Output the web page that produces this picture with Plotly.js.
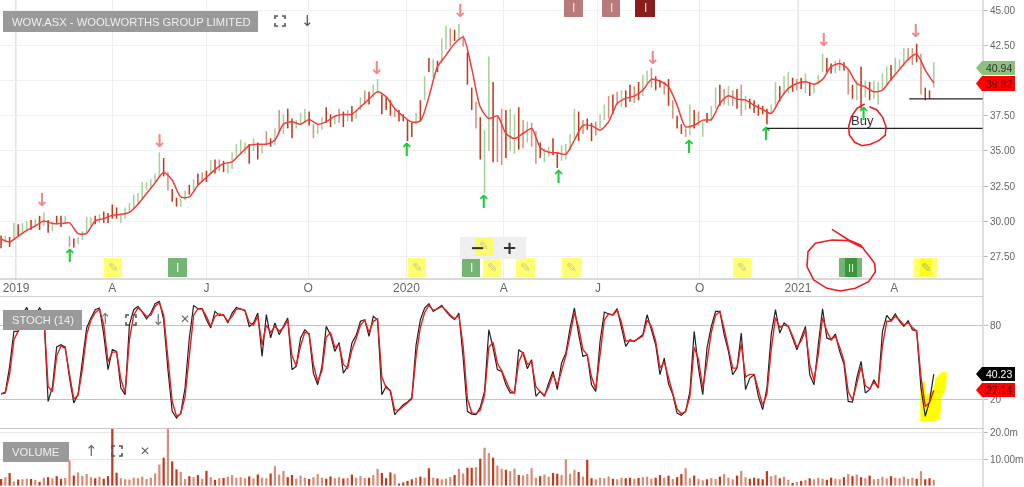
<!DOCTYPE html>
<html><head><meta charset="utf-8">
<script src="https://cdn.plot.ly/plotly-3.0.1.min.js"></script>
<style>html,body{margin:0;padding:0;background:#fff;overflow:hidden}#chart{width:1024px;height:487px;filter:blur(0.5px)}</style>
</head><body><div id="chart"></div>
<script>
// one sample every 4 calendar days from 2018-12-18
const priceHigh=[29.0,29.0,28.9,29.9,29.8,29.9,30.0,30.1,30.2,30.4,
30.65,30.1,30.0,30.4,30.4,30.4,28.95,28.8,28.9,29.3,
30.3,30.3,30.4,30.5,30.7,30.6,31.2,31.0,30.5,31.0,
31.3,31.9,32.0,32.8,32.8,33.0,33.4,34.9,34.5,33.5,
32.3,31.7,31.6,32.2,32.6,33.0,33.4,33.5,33.6,34.35,
34.4,34.4,34.3,34.2,34.9,35.5,35.8,35.6,35.5,35.9,
35.6,35.5,36.4,35.9,36.6,37.9,37.6,38.0,37.3,37.2,
37.7,38.0,37.8,36.9,36.9,37.4,38.1,37.6,37.5,38.0,
37.8,37.9,38.2,37.9,38.8,39.3,39.2,39.7,40.1,39.0,
38.8,38.6,38.0,37.9,37.6,37.2,37.0,37.7,38.6,40.3,
41.6,41.5,41.4,43.0,43.9,43.7,43.6,44.0,43.2,42.0,
39.5,38.5,37.4,36.5,41.7,39.9,37.4,38.0,37.9,38.0,
37.6,38.1,37.2,37.1,37.0,36.4,35.6,35.2,35.3,35.9,
34.9,35.4,35.5,36.2,38.0,37.8,37.2,37.3,37.0,37.1,
37.6,38.3,38.9,39.0,39.2,39.3,39.3,39.7,39.6,39.9,
40.4,40.7,40.9,40.3,40.0,39.9,40.1,38.6,37.5,36.9,
36.6,38.3,37.9,37.8,37.1,37.7,38.2,39.5,39.7,39.4,
39.6,39.3,39.4,39.7,38.9,38.7,38.6,38.3,38.2,38.0,
38.3,39.9,39.6,40.3,40.6,40.2,40.1,40.2,40.5,39.9,
39.8,40.4,41.9,41.6,41.2,41.4,41.5,41.3,40.8,39.7,
40.0,41.0,40.0,39.9,40.0,39.9,40.5,41.0,41.1,41.6,
41.5,42.3,42.3,42.3,42.6,41.9,39.5,39.3,41.3];
const priceLow=[28.1,28.5,28.2,28.8,28.9,29.1,29.3,29.4,29.6,29.4,
29.7,29.2,29.3,29.8,29.6,29.8,28.2,28.15,28.4,28.7,
29.2,29.7,29.8,29.9,29.9,29.9,30.2,30.2,29.9,30.2,
30.6,30.9,31.2,31.6,32.2,32.3,32.8,33.1,33.2,32.2,
31.4,31.05,31.05,31.5,31.9,32.2,32.6,32.8,32.8,33.3,
33.4,33.6,33.5,33.4,33.7,34.6,34.8,34.8,34.1,35.0,
34.4,34.8,35.4,35.3,35.4,36.3,36.2,36.6,35.9,36.6,
36.9,37.0,36.8,35.9,36.2,36.5,37.0,36.7,36.9,37.0,
36.7,37.1,37.1,37.3,37.9,38.3,38.3,38.8,39.1,37.6,
37.9,37.5,37.4,37.1,37.1,35.7,36.0,36.9,37.1,38.6,
40.6,40.2,40.6,41.2,42.2,42.4,42.8,43.0,42.4,39.7,
37.9,36.6,34.4,32.0,35.0,34.2,34.2,34.0,34.5,35.0,
34.8,35.1,35.2,35.6,35.3,34.1,34.5,34.2,34.6,34.7,
33.8,34.3,34.4,35.0,35.9,35.7,36.2,36.5,35.7,36.1,
36.6,37.2,37.3,37.6,38.3,38.1,38.1,38.5,38.4,38.6,
38.9,39.8,39.5,39.3,39.5,39.0,38.2,37.3,36.6,36.2,
36.0,36.1,36.6,36.8,36.0,37.0,37.1,38.0,38.2,38.3,
38.2,38.2,38.0,37.5,37.9,38.0,37.7,37.5,37.6,36.9,
37.6,38.2,38.5,39.0,39.1,39.2,39.3,39.4,39.1,38.9,
39.1,39.7,40.6,40.6,40.5,40.5,40.7,40.7,39.0,38.7,
38.6,38.0,38.8,38.6,38.7,38.3,39.4,39.7,40.0,40.5,
40.7,41.0,41.4,41.1,41.3,39.0,38.6,38.7,39.5];
// 0 rising session, 1 falling session, 2 pale falling session
const barClass=[1,0,1,0,1,0,0,1,0,1,0,1,0,1,1,0,2,1,0,0,
0,0,1,0,1,1,1,1,0,0,0,0,0,0,0,0,0,0,1,2,
1,1,0,0,1,0,1,2,1,0,1,2,1,0,0,0,0,0,1,0,
1,0,2,1,0,2,0,1,1,0,0,0,1,2,0,0,1,1,0,2,
1,0,1,0,0,2,1,0,0,1,1,1,2,1,1,1,1,0,1,0,
1,0,1,0,0,2,1,0,2,1,1,2,1,0,0,1,2,2,1,0,
0,1,2,0,2,2,1,0,0,1,1,0,0,0,0,1,2,1,1,2,
0,0,2,1,2,0,1,1,2,1,0,0,2,1,1,2,1,2,1,1,
2,0,1,2,0,1,0,0,1,2,0,2,1,2,0,1,1,1,1,1,
0,0,1,0,0,1,2,1,0,1,0,0,0,1,1,0,2,1,2,1,
0,1,0,1,0,0,0,0,1,0,0,0,2,2,1,2,1,1,0];
// smoothed price line, one sample every 8 days
const priceAverage=[28.76,28.55,28.95,29.37,29.68,30.04,29.85,29.85,29.9,29.14,
29.16,30.05,30.2,30.44,30.51,30.65,31.22,31.98,32.74,33.47,
32.93,31.74,31.74,32.57,33.12,33.68,34.1,34.23,34.82,35.39,
35.48,35.48,35.77,36.9,37.07,36.9,37.23,36.9,37.07,37.47,
37.59,37.61,38.13,38.68,39.2,38.84,38.02,37.47,37.05,37.14,
38.84,40.98,41.8,42.63,43.06,40.86,38.13,37.3,37.5,36.24,
35.88,36.24,36.6,35.25,34.91,34.87,34.77,35.77,36.81,36.79,
36.48,37.07,38.37,38.73,38.89,39.32,40.08,39.96,39.55,38.25,
36.71,36.83,37.19,37.23,38.37,38.92,38.68,38.61,38.25,37.95,
37.66,38.65,39.44,39.79,39.91,39.74,40.08,40.98,41.21,40.79,
39.79,39.55,39.2,39.32,40.08,40.79,41.5,41.87,40.74,39.82];
const stochK=[24.3,25.7,46.5,74.9,74.9,88.4,94.3,85.7,88.4,93.8,
88.4,18.1,29.7,62.2,64,62,37,16.8,24,50.5,
77.6,85.7,92.4,93.8,72.2,43.8,60,58.6,28.9,23.5,
80.3,92.4,95.1,90.5,85,89.7,97.3,99.2,84.3,43.8,
10,4.6,8.6,28.9,69.5,95.9,93.2,93.2,84.3,77.6,
91,87.8,88.4,81.6,89.7,94.3,92.7,91.6,78.9,81.6,
89.7,54.6,88.4,69.5,81.6,72.2,78.9,85.7,43.8,46.5,
69.5,76.2,72.2,41,31.6,46.5,78.9,72.2,58.6,65.9,
41,46.5,65.4,71.6,83,84.3,70.8,87,84.3,23.5,
30.3,26.2,7.3,11.4,15.4,17.6,20.8,64,84.3,93.8,
97.3,91,93.8,95.9,91,87,84.3,89.7,53.2,10,
7.8,7.3,13.2,26.2,76.2,61.4,43.8,42.4,31.6,24.9,
24.9,60,57.3,44.6,51.9,22.2,26.2,22.2,33,42.4,
27.6,49.2,57.3,77.6,93.8,72.2,54.6,55.9,31.6,26.2,
66.8,90.5,88.9,88.4,93.2,78.9,62.7,68.1,66.8,69.5,
72.2,88.4,76.2,64,39.7,53.2,32.2,23.5,8.6,6.8,
10,26.2,74.9,45.1,23.5,61.4,78.9,91,91,72.2,
58.6,39.7,45.1,73.5,27.6,37,39.7,22.2,11.4,28.9,
72.2,92.4,73.5,81.6,78.9,69.5,60,69.5,78.9,39.7,
31.6,64,93.2,69.5,68.1,72.7,58.6,48.4,18.1,17.6,
37,50.5,24.9,27.6,35.7,28.9,74.9,87.8,83.5,88.9,
83,78.9,83.5,76.2,74.9,28.9,6,18.1,40.23];
const stochD=[24,25,40,68,75,85,92,88,88,92,
89,30,26,55,63,61,40,20,23,44,
72,84,90,93,80,50,58,58,36,25,
68,88,94,91,87,88,95,98,88,55,
18,6,8,22,58,88,93,93,87,79,
87,89,88,83,87,93,93,92,82,80,
87,64,80,74,79,75,78,84,55,47,
63,74,73,48,34,43,70,74,62,64,
48,45,60,69,80,84,74,83,85,38,
29,27,11,11,14,17,20,55,78,90,
96,92,93,95,92,88,85,88,63,20,
9,8,11,23,62,66,49,43,35,27,
25,50,58,48,50,30,26,23,30,40,
31,43,55,72,90,78,60,56,38,28,
55,84,89,88,92,82,67,67,67,69,
71,84,79,67,45,50,37,26,12,8,
10,22,62,52,29,50,74,88,91,77,
62,45,45,65,38,40,40,27,15,24,
60,86,78,80,79,71,62,67,76,48,
35,56,86,75,68,71,62,51,26,19,
32,46,31,28,34,29,63,83,83,87,
84,80,82,78,75,38,14,17,27.14];
const volumeM=[2.5,3.2,4.8,1.6,2.3,2.4,2.6,2.5,2.2,1.4,
3.0,3.2,2.8,3.6,2.6,2.9,9.6,3.8,5.0,3.7,
4.4,3.2,2.8,3.4,2.6,3.6,21.5,4.9,2.8,2.4,
2.3,3.0,2.8,3.4,2.5,3.0,4.6,8.0,10.6,22.0,
9.2,6.2,5.2,2.5,3.6,3.2,4.0,2.6,5.6,3.2,
2.2,2.8,2.9,3.4,4.0,3.0,3.2,2.8,3.5,2.7,
4.2,3.0,2.8,4.6,7.4,4.2,5.6,3.2,4.0,2.6,
3.8,3.0,2.5,3.2,4.4,3.0,2.6,3.5,2.8,3.2,
2.7,2.9,4.2,3.0,3.6,2.9,3.0,4.0,6.4,4.8,
2.8,5.0,4.4,0.8,1.2,1.8,2.4,3.0,3.4,3.0,
6.6,3.0,2.7,2.4,2.7,3.2,4.0,6.4,4.6,6.8,
6.8,7.0,10.2,14.4,12.4,10.6,7.6,6.4,6.0,5.5,
6.5,4.0,3.9,4.4,6.6,3.0,3.6,4.2,3.4,4.8,
4.5,4.0,10.0,4.5,6.0,5.2,3.4,9.8,2.8,2.4,
3.0,2.8,3.5,2.6,2.4,3.0,2.8,3.0,2.6,2.9,
3.2,3.4,2.7,3.0,4.0,3.0,3.8,2.5,3.2,4.4,
6.6,2.8,3.8,2.5,2.0,2.4,2.8,2.5,3.4,4.4,
3.0,2.4,3.8,5.6,3.2,2.6,3.0,2.7,2.4,5.5,
3.6,4.0,2.8,3.4,2.2,1.0,1.4,1.8,2.2,2.8,
2.4,3.0,2.6,2.2,3.0,2.6,2.4,3.2,4.4,3.6,
4.2,3.2,2.8,3.8,2.4,2.6,3.4,2.7,3.6,3.0,
2.8,3.4,2.6,3.0,2.6,5.5,2.4,2.8,2.2];
const arrowUpDates=['2019-02-20','2020-01-01','2020-03-13','2020-05-22','2020-09-21','2020-12-02','2021-03-03'];
const arrowUpPrices=[27.46,34.99,31.29,33.07,35.2,36.12,37.54];
const arrowDownDates=['2019-01-25','2019-05-15','2019-12-04','2020-02-20','2020-08-18','2021-01-25','2021-04-21'];
const arrowDownPrices=[31.43,35.62,40.81,44.79,41.52,42.8,43.37];
const monthTickDates=['2019-01-01','2019-04-01','2019-06-28','2019-10-01','2020-01-01','2020-04-01','2020-06-28','2020-10-01','2021-01-01','2021-04-01'];
const monthTickLabels=['2019','A','J','O','2020','A','J','O','2021','A'];
const yearLines=['2019-01-01','2020-01-01','2021-01-01'];
const priceTicks=[27.5,30,32.5,35,37.5,40,42.5,45];
const priceTickLabels=['27.50','30.00','32.50','35.00','37.50','','42.50','45.00'];
const stochTicks=[20,80];
const volumeTicks=[10,20];
const volumeTickLabels=['10.00m','20.0m'];
const supportLevels=[{from:'2020-12-03',price:36.6},{from:'2021-04-15',price:38.7}];
const lastClose='40.94', lastAverage='39.82', lastK='40.23', lastD='27.14';

const DAY=864e5, T0=Date.UTC(2018,11,18);
const iso=t=>new Date(t).toISOString().slice(0,10);
const dates=priceHigh.map((_,i)=>iso(T0+4*i*DAY));
const avgDates=priceAverage.map((_,i)=>iso(T0+8*i*DAY));
const priceColours=['#a8d09c','#c23a1c','#d8917f'];
const volColours=['#d98c78','#c23a1c','#d98c78'];

const W=1024,H=487;
const px=x=>x/W, py=y=>1-y/H;
const xEnd=983;
const traces=[
 {type:'bar',x:dates,y:priceHigh.map((h,i)=>h-priceLow[i]),base:priceLow,width:1.45*DAY,
  marker:{color:barClass.map(c=>priceColours[c]),line:{width:0}},xaxis:'x',yaxis:'y',hoverinfo:'skip'},
 {type:'scatter',mode:'lines',x:avgDates,y:priceAverage,line:{color:'#f33c3c',width:1.5,shape:'spline',smoothing:0.7},xaxis:'x',yaxis:'y'},
 {type:'scatter',mode:'text',x:arrowUpDates,y:arrowUpPrices,text:arrowUpDates.map(()=>'↑'),textposition:'middle center',
  textfont:{family:'DejaVu Sans',size:18,color:'#1fcf3f',weight:700},cliponaxis:false,xaxis:'x',yaxis:'y'},
 {type:'scatter',mode:'text',x:arrowDownDates,y:arrowDownPrices,text:arrowDownDates.map(()=>'↓'),textposition:'middle center',
  textfont:{family:'DejaVu Sans',size:18,color:'#f08a8a',weight:700},cliponaxis:false,xaxis:'x',yaxis:'y'},
 {type:'scatter',mode:'lines',x:dates,y:stochK,line:{color:'#222',width:1.2},xaxis:'x2',yaxis:'y2'},
 {type:'scatter',mode:'lines',x:dates,y:stochD,line:{color:'#ee1c1c',width:1.4},xaxis:'x2',yaxis:'y2'},
 {type:'bar',x:dates,y:volumeM,width:2.1*DAY,marker:{color:barClass.map(c=>volColours[c]),line:{width:0}},xaxis:'x3',yaxis:'y3',hoverinfo:'skip'}
];

const shapes=[],ann=[];
const rect=(x0,y0,x1,y1,fill,layer)=>shapes.push({type:'rect',xref:'paper',yref:'paper',x0:px(x0),x1:px(x1),y0:py(y0),y1:py(y1),fillcolor:fill,line:{width:0},layer:layer||'above'});
const poly=(pts,o)=>shapes.push(Object.assign({type:'path',xref:'paper',yref:'paper',path:'M'+pts.map(p=>px(p[0]).toFixed(5)+' '+py(p[1]).toFixed(5)).join(' L')},o));
const hline=(x0,x1,y,c,w)=>shapes.push({type:'line',xref:'paper',yref:'paper',x0:px(x0),x1:px(x1),y0:py(y),y1:py(y),line:{color:c,width:w||1}});
const text=(x,y,t,size,color,anchor,extra)=>ann.push(Object.assign({xref:'paper',yref:'paper',x:px(x),y:py(y),text:t,showarrow:false,xanchor:anchor||'center',yanchor:'middle',font:{family:'Liberation Sans',size,color}},extra||{}));
const corners=(cx,cy,c)=>{const r=5,k=3;[[-1,-1],[1,-1],[-1,1],[1,1]].forEach(s=>poly([[cx+s[0]*(r-k),cy+s[1]*r],[cx+s[0]*r,cy+s[1]*r],[cx+s[0]*r,cy+s[1]*(r-k)]],{line:{color:c||'#555',width:1.6}}));};
const tag=(x0,x1,y0,y1,fill,t,tc)=>{poly([[x0,(y0+y1)/2],[x0+6,y0],[x1,y0],[x1,y1],[x0+6,y1],[x0,(y0+y1)/2]],{fillcolor:fill,line:{width:0}});text((x0+x1)/2+3,(y0+y1)/2,t,10.5,tc);};

// year lines and support lines
yearLines.forEach(d=>shapes.push({type:'line',xref:'x',yref:'paper',x0:d,x1:d,y0:py(279),y1:1,line:{color:'#c4c4c4',width:1},layer:'below'}));
supportLevels.forEach(s=>shapes.push({type:'line',xref:'x',yref:'y',x0:s.from,x1:'2021-06-23',y0:s.price,y1:s.price,line:{color:'#222',width:1.2}}));
// frame
hline(0,xEnd,279,'#b5b5b5',1.2);hline(0,xEnd,296.5,'#d0d0d0',1);hline(0,xEnd,428.5,'#c8c8c8',1.2);
shapes.push({type:'line',xref:'paper',yref:'paper',x0:px(xEnd),x1:px(xEnd),y0:0,y1:1,line:{color:'#bdbdbd',width:1}});
// note markers
[[104,122],[408,426],[483,501],[516,535],[562,581],[733,751]].forEach(a=>{rect(a[0],258,a[1],277,'#ffff70');text((a[0]+a[1])/2,267.5,'✎',13,'#c9c9a0','center',{font:{family:'DejaVu Sans',size:13,color:'#c9c9a0'}});});
rect(914,258,937,277,'#ffff70');rect(920,259,932,276,'#ffff10');text(926,267.5,'✎',13,'#b8b860','center',{font:{family:'DejaVu Sans',size:13,color:'#b8b860'}});
[[168,187],[462,480]].forEach(a=>{rect(a[0],258,a[1],277,'#74b474');text((a[0]+a[1])/2,267.5,'I',12,'#fff');});
rect(839,258,862,277,'#74b474');rect(845,258,857,277,'#3a963a');text(851,267.5,'II',11,'#d8efd8');
[[564,583,'#b97a7a'],[602,620,'#b97a7a'],[635,655,'#8a1c1c']].forEach(a=>{rect(a[0],0,a[1],17,a[2]);text((a[0]+a[1])/2,8,'I',12,'#f3e3e3');});
// zoom control
rect(460,237,526,259,'#efefef');rect(475,238,493,256,'rgba(255,255,60,.75)');
text(477,247,'−',20,'#333','center',{font:{family:'DejaVu Sans',size:18,color:'#333',weight:700}});
text(509,247,'+',20,'#333','center',{font:{family:'DejaVu Sans',size:18,color:'#333',weight:700}});
text(484,246,'✎',12,'#c9c9a0','center',{font:{family:'DejaVu Sans',size:12,color:'#c9c9a0'}});
// panel labels
rect(3,11,258,32,'#9a9a9a');text(10,21.5,'WOW.ASX - WOOLWORTHS GROUP LIMITED',11.2,'#efefef','left');
corners(280,21);text(307,21,'↓',15,'#555','center',{font:{family:'DejaVu Sans',size:15,color:'#555'}});
rect(3,310,82,330,'#9a9a9a');text(10,320,'STOCH (14)',11.2,'#efefef','left');
text(105,319,'↑',15,'#777','center',{font:{family:'DejaVu Sans',size:15,color:'#777'}});corners(131,320);
text(158,320,'↓',15,'#777','center',{font:{family:'DejaVu Sans',size:15,color:'#777'}});text(185,319,'✕',12,'#666','center',{font:{family:'DejaVu Sans',size:12,color:'#666'}});
rect(3,442,69,462,'#9a9a9a');text(10,451.5,'VOLUME',11.2,'#efefef','left');
text(91,451,'↑',15,'#666','center',{font:{family:'DejaVu Sans',size:15,color:'#666'}});corners(117,451);
text(145,451,'✕',12,'#666','center',{font:{family:'DejaVu Sans',size:12,color:'#666'}});
// hand annotations
text(862,120,'Buy',13,'#333');
const toPx=(X,Y,dy)=>[512+X/3,(dy||0)+Y/3];
poly([[1072,320],[1095,330],[1112,352],[1122,380],[1120,405],[1100,422],[1075,433],[1050,437],[1028,427],[1012,405],[1010,380],[1018,350],[1035,325],[1058,312]].map(p=>toPx(p[0],p[1])),{line:{color:'#ee1c24',width:1.6}});
poly([[960,688],[1010,720],[1045,735],[1065,760],[1088,790],[1090,815],[1070,845],[1030,865],[985,873],[945,865],[905,840],[885,800],[888,755],[910,730],[960,720],[1010,722],[1055,745]].map(p=>toPx(p[0],p[1])),{line:{color:'#ee1c24',width:1.6}});
poly([[1225,262],[1240,262],[1240,300],[1265,285],[1270,250],[1288,232],[1305,232],[1302,280],[1288,310],[1285,370],[1270,378],[1225,378],[1225,262]].map(p=>toPx(p[0],p[1],295)),{fillcolor:'#ffff00',line:{width:0},layer:'below'});
// last-value tags
tag(976,1015,61,75,'#8fbf7f',lastClose,'#333');
tag(976,1015,76,91,'#ff0000',lastAverage,'#700');
tag(976,1015,367,381,'#000',lastK,'#fff');
tag(976,1015,383,397,'#ff0000',lastD,'#400');

const xr=['2018-12-17','2021-06-23'];
const tick={family:'Liberation Sans',size:10,color:'#666'};
const layout={width:W,height:H,margin:{l:0,r:0,t:0,b:0},showlegend:false,paper_bgcolor:'rgba(0,0,0,0)',plot_bgcolor:'rgba(0,0,0,0)',barmode:'overlay',
 xaxis:{domain:[0,xEnd/W],anchor:'y',type:'date',range:xr,tickmode:'array',tickvals:monthTickDates,ticktext:monthTickLabels,ticks:'',showgrid:true,gridcolor:'#efefef',zeroline:false,showline:false,tickfont:{family:'Liberation Sans',size:12,color:'#666'},tickangle:0},
 yaxis:{domain:[py(279),1],anchor:'x',side:'right',range:[25.92,45.71],tickmode:'array',tickvals:priceTicks,ticktext:priceTickLabels,ticks:'outside',ticklen:4,tickcolor:'#bbb',gridcolor:'#f0f0f0',zeroline:false,tickfont:tick},
 xaxis2:{domain:[0,xEnd/W],anchor:'y2',type:'date',range:xr,showticklabels:false,showgrid:false,zeroline:false,ticks:''},
 yaxis2:{domain:[py(428),py(297)],anchor:'x2',side:'right',range:[-3.5,102.7],tickmode:'array',tickvals:stochTicks,ticktext:['20','80'],ticks:'outside',ticklen:4,tickcolor:'#bbb',gridcolor:'#c4c4c4',zeroline:false,tickfont:tick},
 xaxis3:{domain:[0,xEnd/W],anchor:'y3',type:'date',range:xr,showticklabels:false,showgrid:false,zeroline:false,ticks:''},
 yaxis3:{domain:[0,py(429)],anchor:'x3',side:'right',range:[-0.53,21.5],tickmode:'array',tickvals:volumeTicks,ticktext:volumeTickLabels,ticks:'outside',ticklen:4,tickcolor:'#bbb',gridcolor:'#e8e8e8',zeroline:false,tickfont:tick},
 shapes,annotations:ann};
Plotly.newPlot('chart',traces,layout,{staticPlot:true,displayModeBar:false});
</script></body></html>
